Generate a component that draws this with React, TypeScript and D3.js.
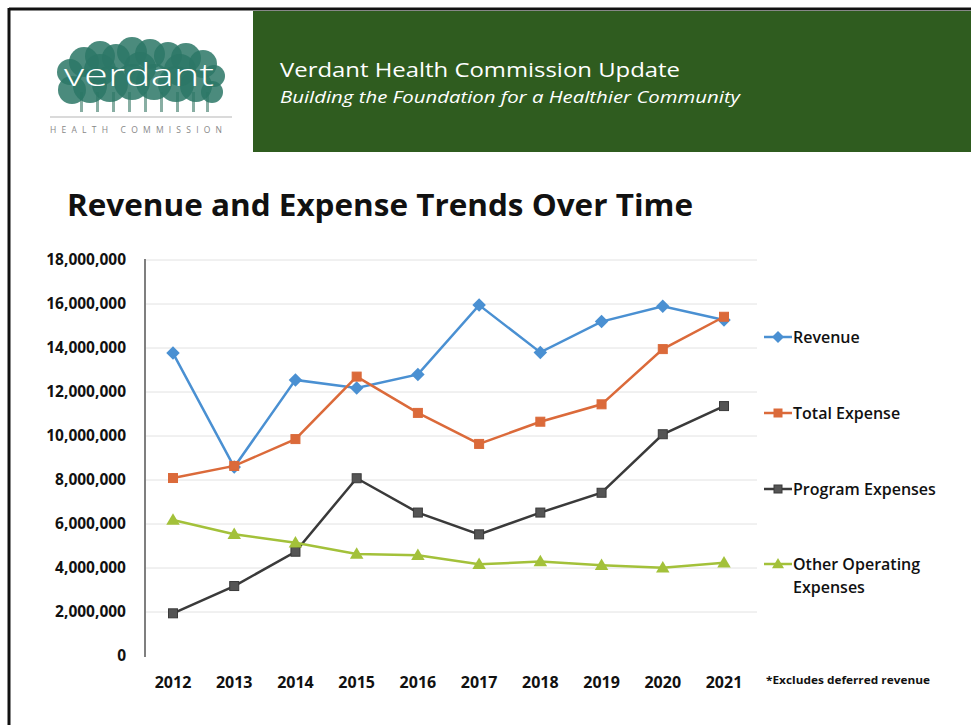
import React from "react";
import * as d3 from "d3";

const years = ["2012","2013","2014","2015","2016","2017","2018","2019","2020","2021"];
const revenue = [13770000, 8590000, 12550000, 12180000, 12800000, 15950000, 13800000, 15200000, 15900000, 15270000];
const totalExpense = [8090000, 8640000, 9860000, 12700000, 11050000, 9640000, 10650000, 11440000, 13950000, 15420000];
const programExpenses = [1940000, 3180000, 4740000, 8080000, 6520000, 5530000, 6520000, 7420000, 10080000, 11360000];
const otherOperating = [6180000, 5530000, 5150000, 4640000, 4580000, 4170000, 4290000, 4120000, 4010000, 4240000];
const yTicks = [0, 2000000, 4000000, 6000000, 8000000, 10000000, 12000000, 14000000, 16000000, 18000000];

const seriesList = [
  { name: "Revenue", values: revenue, color: "#4a90d2", marker: "diamond", legendY: 337 },
  { name: "Total Expense", values: totalExpense, color: "#db6a3a", marker: "square", legendY: 413 },
  { name: "Program Expenses", values: programExpenses, color: "#3a3a3a", marker: "square", legendY: 489 },
  { name: "Other Operating", values: otherOperating, color: "#a3c13a", marker: "triangle", legendY: 564 },
];

const FONT = "'Open Sans', Lato, sans-serif";

function Marker({ type, x, y, color, size }: { type: string; x: number; y: number; color: string; size: number }) {
  if (type === "diamond") {
    const s = size * 0.75;
    return <path d={`M${x},${y - s} L${x + s},${y} L${x},${y + s} L${x - s},${y} Z`} fill={color} />;
  }
  if (type === "triangle") {
    const s = size * 0.75;
    return <path d={`M${x},${y - s} L${x + s},${y + s * 0.7} L${x - s},${y + s * 0.7} Z`} fill={color} />;
  }
  const fill = color === "#3a3a3a" ? "#555" : color;
  return <rect x={x - size / 2} y={y - size / 2} width={size} height={size} fill={fill} stroke={color} strokeWidth={1} />;
}

const treeBlobs = [
  [70, 72, 13], [84, 62, 15], [100, 56, 15], [116, 58, 14], [132, 52, 15], [150, 54, 15], [168, 56, 14], [186, 58, 15], [203, 64, 14], [214, 76, 11],
  [72, 90, 14], [90, 86, 17], [110, 84, 18], [132, 82, 18], [154, 82, 18], [176, 84, 18], [196, 86, 16], [212, 92, 11],
  [100, 70, 16], [140, 68, 16], [180, 70, 16],
];
const trunks = [80, 96, 112, 128, 144, 160, 176, 192, 206];

export default function App() {
  const x = d3.scalePoint<string>().domain(years).range([173, 724]);
  const y = d3.scaleLinear().domain([0, 18000000]).range([656, 260]);
  const line = d3.line<number>().x((_, i) => x(years[i]) as number).y((d) => y(d));
  const fmt = d3.format(",");

  return (
    <div style={{ position: "absolute", left: 0, top: 0 }}>
      <svg width={971} height={725} style={{ display: "block", background: "#fff" }}>
        {/* slide frame */}
        <line x1={9} y1={9} x2={971} y2={9} stroke="#111" strokeWidth={3} />
        <line x1={9} y1={8} x2={9} y2={725} stroke="#111" strokeWidth={3} />
        {/* banner */}
        <rect x={253} y={11} width={718} height={141} fill="#2f5c1f" />
        <text x={280} y={77} fill="#fff" fontFamily={FONT} fontSize={20} textLength={400} lengthAdjust="spacingAndGlyphs">Verdant Health Commission Update</text>
        <text x={280} y={103} fill="#fff" fontFamily={FONT} fontSize={15.5} fontStyle="italic" textLength={460} lengthAdjust="spacingAndGlyphs">Building the Foundation for a Healthier Community</text>
        {/* logo */}
        <g>
          {trunks.map((tx, i) => (
            <rect key={i} x={tx} y={92} width={3} height={20} fill="#6a9a8c" opacity={0.8} />
          ))}
          {treeBlobs.map((t, i) => (
            <ellipse key={i} cx={t[0]} cy={t[1]} rx={t[2]} ry={t[2]} fill="#2c7766" opacity={0.85} />
          ))}
          <text x={64} y={86} fill="#fff" fontFamily={FONT} fontWeight={300} fontSize={32} textLength={150} lengthAdjust="spacingAndGlyphs">verdant</text>
          <line x1={50} y1={117} x2={232} y2={117} stroke="#b5b5b5" strokeWidth={1.2} />
          <text x={50} y={133} fill="#888" fontFamily={FONT} fontSize={8.5} textLength={172} lengthAdjust="spacing">HEALTH COMMISSION</text>
        </g>
        {/* title */}
        <text x={67} y={216} fontFamily={FONT} fontWeight={700} fontSize={30} fill="#111" textLength={626} lengthAdjust="spacingAndGlyphs">Revenue and Expense Trends Over Time</text>
        {/* grid */}
        {yTicks.filter((t) => t > 0).map((t) => (
          <line key={t} x1={146} x2={757} y1={y(t)} y2={y(t)} stroke="#e2e2e2" strokeWidth={1} />
        ))}
        <line x1={145} x2={145} y1={259} y2={657} stroke="#555" strokeWidth={1.5} />
        {yTicks.map((t) => (
          <text key={t} x={126} y={y(t) + 5} textAnchor="end" fontFamily={FONT} fontWeight={700} fontSize={15.5} fill="#111">{fmt(t)}</text>
        ))}
        {years.map((yr) => (
          <text key={yr} x={x(yr)} y={688} textAnchor="middle" fontFamily={FONT} fontWeight={700} fontSize={16} fill="#111">{yr}</text>
        ))}
        {/* series */}
        {seriesList.map((s) => (
          <g key={s.name}>
            <path d={line(s.values) || ""} fill="none" stroke={s.color} strokeWidth={2.5} />
            {s.values.map((v, i) => (
              <Marker key={i} type={s.marker} x={x(years[i]) as number} y={y(v)} color={s.color} size={9} />
            ))}
          </g>
        ))}
        {/* legend */}
        {seriesList.map((s) => (
          <g key={s.name}>
            <line x1={764} x2={792} y1={s.legendY} y2={s.legendY} stroke={s.color} strokeWidth={2.5} />
            <Marker type={s.marker} x={778} y={s.legendY} color={s.color} size={8} />
            <text x={793} y={s.legendY + 6} fontFamily={FONT} fontWeight={600} fontSize={16} fill="#111">{s.name}</text>
          </g>
        ))}
        <text x={793} y={593} fontFamily={FONT} fontWeight={600} fontSize={16} fill="#111">Expenses</text>
        <text x={766} y={684} fontFamily={FONT} fontWeight={700} fontSize={11} fill="#111" textLength={164} lengthAdjust="spacingAndGlyphs">*Excludes deferred revenue</text>
      </svg>
    </div>
  );
}
